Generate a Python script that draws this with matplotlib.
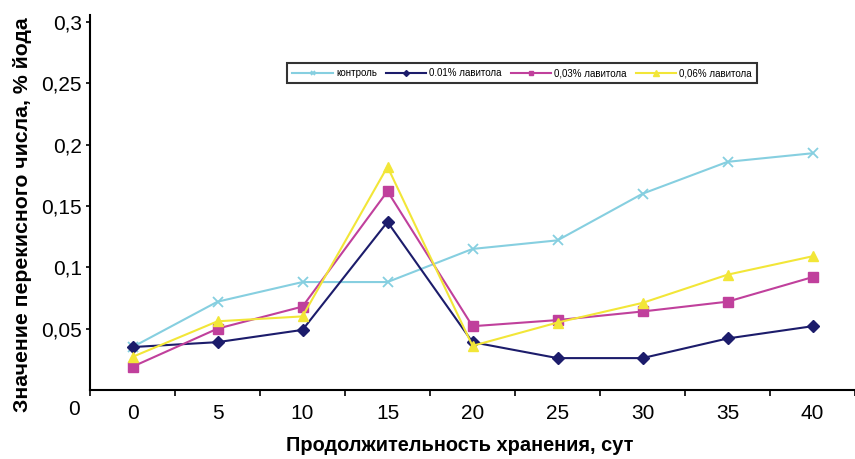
import matplotlib
matplotlib.use('Agg')
from matplotlib import pyplot as plt
from matplotlib.ticker import FixedLocator

plt.rcParams['font.family'] = ['Liberation Sans', 'DejaVu Sans']

days = ['0', '5', '10', '15', '20', '25', '30', '35', '40']
control = [0.035, 0.072, 0.088, 0.088, 0.115, 0.122, 0.160, 0.186, 0.193]
lav001 = [0.035, 0.039, 0.049, 0.137, 0.039, 0.026, 0.026, 0.042, 0.052]
lav003 = [0.019, 0.050, 0.068, 0.162, 0.052, 0.057, 0.064, 0.072, 0.092]
lav006 = [0.027, 0.056, 0.060, 0.182, 0.036, 0.055, 0.071, 0.094, 0.109]
names = ['контроль', '0.01% лавитола', '0,03% лавитола', '0,06% лавитола']
yticks = [0.05, 0.1, 0.15, 0.2, 0.25, 0.3]
ylabels = ['0,05', '0,1', '0,15', '0,2', '0,25', '0,3']

fig = plt.figure(figsize=(8.55, 4.59), dpi=100)
ax = fig.add_axes([90 / 855, 1 - 390 / 459, 765 / 855, 368 / 459])

x = list(range(len(days)))
ax.plot(x, control, color='#86cfe0', marker='x', ms=7, mew=1.3, lw=1.5, label=names[0])
ax.plot(x, lav001, color='#1c1c6b', marker='D', ms=6, lw=1.5, label=names[1])
ax.plot(x, lav003, color='#c0409c', marker='s', ms=6.5, lw=1.5, label=names[2])
ax.plot(x, lav006, color='#f2e638', marker='^', ms=7.5, lw=1.5, label=names[3])

ax.set_xlim(-0.5, len(days) - 0.5)
ax.set_ylim(0, 0.3)
ax.set_xticks(x)
ax.set_xticklabels(days)
ax.xaxis.set_minor_locator(FixedLocator([i - 0.5 for i in range(len(days) + 1)]))
ax.tick_params(axis='x', which='major', length=0, pad=10, labelsize=15)
ax.tick_params(axis='x', which='minor', length=4, width=1.2)
ax.set_yticks(yticks)
ax.set_yticklabels(ylabels)
ax.tick_params(axis='y', length=3, width=1.2, pad=3, labelsize=15)
ax.text(-0.013, -0.016, '0', transform=ax.get_yaxis_transform(), ha='right', va='center',
        fontsize=15, clip_on=False)

for s in ['top', 'right']:
    ax.spines[s].set_visible(False)
for s in ['left', 'bottom']:
    ax.spines[s].set_linewidth(1.5)
ax.spines['left'].set_bounds(0, 0.306)

fig.text(0.026, 0.532, 'Значение перекисного числа, % йода', rotation=90, ha='center',
         va='center', fontsize=15.3, fontweight='bold')
fig.text(0.538, 0.03, 'Продолжительность хранения, сут', ha='center', va='center',
         fontsize=14.4, fontweight='bold')

leg = ax.legend(loc='center', bbox_to_anchor=(522 / 855, 1 - 73 / 459),
                bbox_transform=fig.transFigure, ncol=4, fontsize=7, frameon=True,
                fancybox=False, handlelength=4.2, columnspacing=0.9, handletextpad=0.3,
                borderpad=0.55, markerscale=0.5)
leg.get_frame().set_edgecolor('black')
leg.get_frame().set_linewidth(1.5)

fig.savefig('out.png', dpi=100)
